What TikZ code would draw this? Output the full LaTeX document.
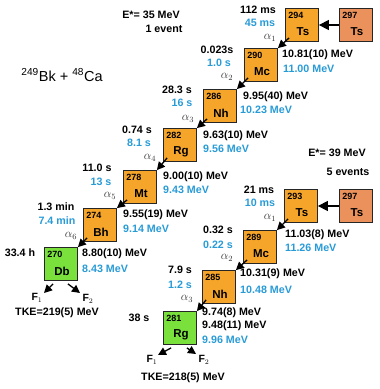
\documentclass[tikz,border=0pt]{standalone}
\usepackage{fontspec}
\setmainfont{Liberation Sans}
\usetikzlibrary{arrows.meta}
\definecolor{orng}{RGB}{245,165,42}
\definecolor{salm}{RGB}{234,145,92}
\definecolor{grn}{RGB}{121,224,60}
\definecolor{bl}{RGB}{40,155,215}
\definecolor{alp}{RGB}{50,50,50}
\tikzset{
  nbox/.style={draw=black!85, line width=0.8pt, minimum width=33pt, minimum height=33pt, inner sep=0pt},
  masslbl/.style={inner sep=0pt, font=\fontsize{9}{10}\selectfont\bfseries, anchor=north west},
  symlbl/.style={inner sep=0pt, font=\fontsize{11.5}{13}\selectfont\bfseries},
  lbl/.style={inner sep=0pt, font=\fontsize{10.7}{12}\selectfont\bfseries},
  blbl/.style={lbl, text=bl},
  alab/.style={inner sep=0pt, text=alp, font=\fontsize{12}{13}\selectfont},
  arr/.style={line width=1.3pt, -{Triangle[length=8pt,width=8pt]}},
  harr/.style={line width=1.4pt, -{Triangle[length=10pt,width=10pt]}},
  farr/.style={line width=1.3pt, -{Triangle[length=8pt,width=8pt]}},
  flbl/.style={inner sep=0pt, font=\fontsize{10.5}{12}\selectfont\bfseries},
}
\newcommand\nuc[6]{%
  \node[nbox, fill=#6] (#1) at (#2,#3) {};
  \node[masslbl] at ([shift={(3,4)}]#1.north west) {#4};
  \node[symlbl] at ([shift={(1,7)}]#1.center) {#5};
}
\begin{document}
\begin{tikzpicture}[x=1pt,y=-1pt]
\useasboundingbox (0,0) rectangle (380,389);
% reaction
\node[inner sep=0pt, font=\fontsize{14.5}{16}\selectfont] (reac) at (62,75) {$^{\mathrm{249}}$Bk + $^{\mathrm{48}}$Ca};
% --- chain 1 ---
\node[lbl] (e35) at (151,15) {E*= 35 MeV};
\node[lbl] (ev1) at (164,29) {1 event};
\nuc{ta}{356}{25}{297}{Ts}{salm}
\nuc{tb}{302}{25}{294}{Ts}{orng}
\nuc{mc}{261}{65}{290}{Mc}{orng}
\nuc{nh}{220}{106}{286}{Nh}{orng}
\nuc{rg}{180}{145}{282}{Rg}{orng}
\nuc{mt}{140}{187}{278}{Mt}{orng}
\nuc{bh}{100}{225}{274}{Bh}{orng}
\nuc{db}{61}{264}{270}{Db}{grn}
\draw[harr] (ta.west) -- (tb.east);
\draw[arr] ([shift={(4,-4)}]tb.south west) -- (mc.north east);
\draw[arr] ([shift={(4,-4)}]mc.south west) -- (nh.north east);
\draw[arr] ([shift={(4,-4)}]nh.south west) -- (rg.north east);
\draw[arr] ([shift={(4,-4)}]rg.south west) -- (mt.north east);
\draw[arr] ([shift={(4,-4)}]mt.south west) -- (bh.north east);
\draw[arr] ([shift={(4,-4)}]bh.south west) -- (db.north east);
\node[alab] (a1) at (270,38) {$\alpha_1$};
\node[alab] (a2) at (227,77) {$\alpha_2$};
\node[alab] (a3) at (188,119) {$\alpha_3$};
\node[alab] (a4) at (150,158) {$\alpha_4$};
\node[alab] (a5) at (110,196) {$\alpha_5$};
\node[alab] (a6) at (71,236) {$\alpha_6$};
\node[lbl] (t1) at (258,10) {112 ms};
\node[blbl] (t1b) at (260,23) {45 ms};
\node[lbl] (t2) at (217,50) {0.023s};
\node[blbl] (t2b) at (219,63) {1.0 s};
\node[lbl] (t3) at (177,90) {28.3 s};
\node[blbl] (t3b) at (182,103) {16 s};
\node[lbl] (t4) at (137,130) {0.74 s};
\node[blbl] (t4b) at (139,143) {8.1 s};
\node[lbl] (t5) at (97,168) {11.0 s};
\node[blbl] (t5b) at (101,182) {13 s};
\node[lbl] (t6) at (56,207) {1.3 min};
\node[blbl] (t6b) at (57,221) {7.4 min};
\node[lbl] (t7) at (20,253) {33.4 h};
\node[lbl, anchor=west] (e1) at (282,55) {10.81(10) MeV};
\node[blbl, anchor=west] (e1b) at (283,69) {11.00 MeV};
\node[lbl, anchor=west] (e2) at (243,97) {9.95(40) MeV};
\node[blbl, anchor=west] (e2b) at (240,110) {10.23 MeV};
\node[lbl, anchor=west] (e3) at (203,136) {9.63(10) MeV};
\node[blbl, anchor=west] (e3b) at (203,149) {9.56 MeV};
\node[lbl, anchor=west] (e4) at (163,177) {9.00(10) MeV};
\node[blbl, anchor=west] (e4b) at (163,190) {9.43 MeV};
\node[lbl, anchor=west] (e5) at (123,215) {9.55(19) MeV};
\node[blbl, anchor=west] (e5b) at (123,229) {9.14 MeV};
\node[lbl, anchor=west] (e6) at (82,254) {8.80(10) MeV};
\node[blbl, anchor=west] (e6b) at (82,269) {8.43 MeV};
\coordinate (f1a) at (44,293);
\coordinate (f2a) at (80,293);
\draw[farr] ([shift={(9,3)}]db.south west) -- (f1a);
\draw[farr] ([shift={(-10,3)}]db.south east) -- (f2a);
\node[flbl] (F1a) at (37,298) {F$_1$};
\node[flbl] (F2a) at (88,299) {F$_2$};
\node[lbl] (tke1) at (57,313) {TKE=219(5) MeV};
% --- chain 2 ---
\node[lbl] (e39) at (337,153) {E*= 39 MeV};
\node[lbl] (ev5) at (348,172) {5 events};
\nuc{tc}{356}{206}{297}{Ts}{salm}
\nuc{td}{301}{206}{293}{Ts}{orng}
\nuc{mc2}{260}{247}{289}{Mc}{orng}
\nuc{nh2}{219}{287}{285}{Nh}{orng}
\nuc{rg2}{180}{328}{281}{Rg}{grn}
\draw[harr] (tc.west) -- (td.east);
\draw[arr] ([shift={(4,-4)}]td.south west) -- (mc2.north east);
\draw[arr] ([shift={(4,-4)}]mc2.south west) -- (nh2.north east);
\draw[arr] ([shift={(4,-4)}]nh2.south west) -- (rg2.north east);
\node[alab] (b1) at (270,218) {$\alpha_1$};
\node[alab] (b2) at (227,258) {$\alpha_2$};
\node[alab] (b3) at (187,299) {$\alpha_3$};
\node[lbl] (s1) at (259,190) {21 ms};
\node[blbl] (s1b) at (260,203) {10 ms};
\node[lbl] (s2) at (218,230) {0.32 s};
\node[blbl] (s2b) at (218,245) {0.22 s};
\node[lbl] (s3) at (180,270) {7.9 s};
\node[blbl] (s3b) at (180,285) {1.2 s};
\node[lbl] (s4) at (139,318) {38 s};
\node[lbl, anchor=west] (g1) at (285,235) {11.03(8) MeV};
\node[blbl, anchor=west] (g1b) at (285,248) {11.26 MeV};
\node[lbl, anchor=west] (g2) at (240,274) {10.31(9) MeV};
\node[blbl, anchor=west] (g2b) at (240,290) {10.48 MeV};
\node[lbl, anchor=west] (g3) at (202,313) {9.74(8) MeV};
\node[lbl, anchor=west] (g4) at (202,326) {9.48(11) MeV};
\node[blbl, anchor=west] (g3b) at (202,340) {9.96 MeV};
\coordinate (f1b) at (158,355);
\coordinate (f2b) at (196,354);
\draw[farr] ([shift={(8,3)}]rg2.south west) -- (f1b);
\draw[farr] ([shift={(-10,3)}]rg2.south east) -- (f2b);
\node[flbl] (F1b) at (152,360) {F$_1$};
\node[flbl] (F2b) at (204,360) {F$_2$};
\node[lbl] (tke2) at (183,378) {TKE=218(5) MeV};
\end{tikzpicture}
\end{document}
